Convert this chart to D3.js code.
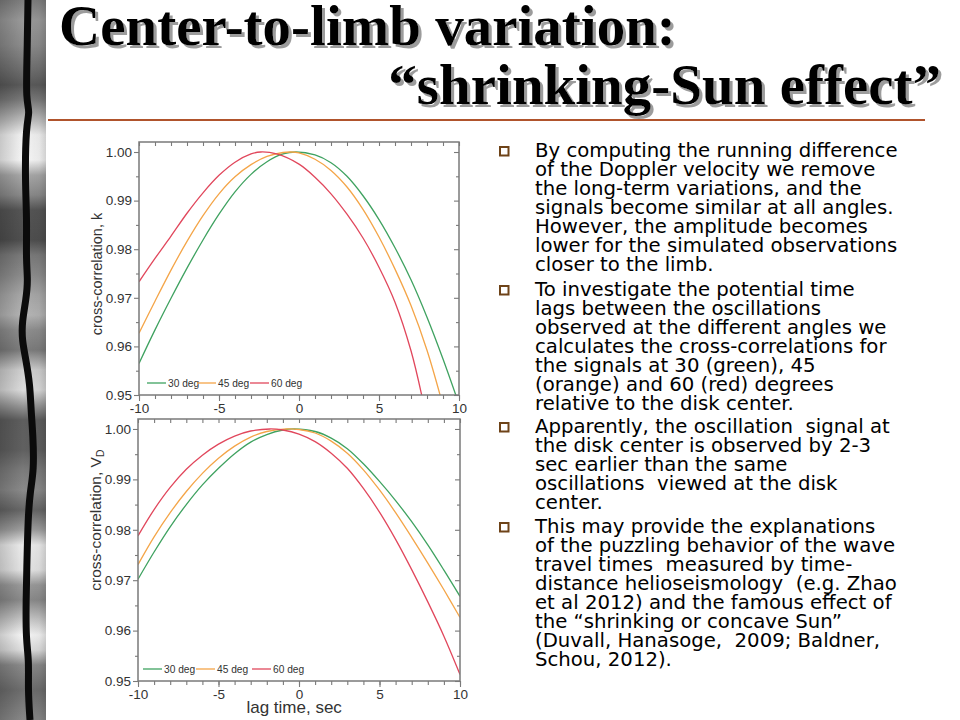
<!DOCTYPE html>
<html><head><meta charset="utf-8">
<script src="https://cdn.jsdelivr.net/npm/d3@7"></script>
<style>body{margin:0;background:#fff;overflow:hidden} svg{display:block}</style>
</head><body><svg id="c" width="960" height="720"></svg>
<script>
// ---------------- DATA ----------------
const titleLine1 = "Center-to-limb variation:";
const titleLine2 = "\u201Cshrinking-Sun effect\u201D";

const lagTicks = [-10, -5, 0, 5, 10];
const lagMinorTicks = [-10,-9,-8,-7,-6,-5,-4,-3,-2,-1,0,1,2,3,4,5,6,7,8,9,10];
const corrTicks = [0.95, 0.96, 0.97, 0.98, 0.99, 1.00];
const corrMinorTicks = [0.955, 0.965, 0.975, 0.985, 0.995];
const seriesNames = ["30 deg", "45 deg", "60 deg"];
const xLabel = "lag time, sec";

// top panel: cross-correlation of k (lag in sec, correlation)
const kLag30 = [-10,-9,-8,-7,-6,-5,-4,-3,-2,-1,-0.2,1,2,3,4,5,6,7,8,9,10];
const kVal30 = [0.9565,0.9634,0.9699,0.9761,0.9819,0.9872,0.9918,0.9954,0.9980,0.9996,1.0000,0.9994,0.9978,0.9950,0.9910,0.9861,0.9803,0.9737,0.9660,0.9574,0.9481];
const kLag45 = [-10,-9,-8,-7,-6,-5,-4,-3,-2,-1,-0.5,0,1,2,3,4,5,6,7,8,9];
const kVal45 = [0.9627,0.9693,0.9757,0.9816,0.9869,0.9914,0.9949,0.9974,0.9991,0.9999,1.0000,0.9998,0.9985,0.9962,0.9928,0.9882,0.9825,0.9759,0.9684,0.9592,0.9478];
const kLag60 = [-10,-9,-8,-7,-6,-5,-4,-3,-2.4,-1.4,0,1,2,3,4,5,6,7,7.7];
const kVal60 = [0.9733,0.9781,0.9827,0.9874,0.9916,0.9952,0.9979,0.9996,1.0000,0.9996,0.9975,0.9948,0.9914,0.9872,0.9823,0.9763,0.9691,0.9591,0.9495];

// bottom panel: cross-correlation of V_D
const vLag30 = [-10,-9,-8,-7,-6,-5,-4,-3,-2,-1,-0.3,1,2,3,4,5,6,7,8,9,10];
const vVal30 = [0.9702,0.9756,0.9806,0.9850,0.9889,0.9922,0.9951,0.9974,0.9989,0.9998,1.0000,0.9995,0.9982,0.9961,0.9931,0.9896,0.9858,0.9816,0.9770,0.9720,0.9668];
const vLag45 = [-10,-9,-8,-7,-6,-5,-4,-3,-2,-0.8,0,1,2,3,4,5,6,7,8,9,10];
const vVal45 = [0.9731,0.9786,0.9834,0.9876,0.9912,0.9942,0.9966,0.9984,0.9995,1.0000,0.9999,0.9992,0.9976,0.9952,0.9919,0.9879,0.9834,0.9785,0.9734,0.9681,0.9626];
const vLag60 = [-10,-9,-8,-7,-6,-5,-4,-3,-1.8,-1,0,1,2,3,4,5,6,7,8,9,10];
const vVal60 = [0.9788,0.9840,0.9884,0.9920,0.9948,0.9970,0.9986,0.9996,1.0000,0.9998,0.9990,0.9975,0.9952,0.9922,0.9882,0.9835,0.9781,0.9721,0.9657,0.9589,0.9513];

const bullets = [
  ["By computing the running difference",
   "of the Doppler velocity we remove",
   "the long-term variations, and the",
   "signals become similar at all angles.",
   "However, the amplitude becomes",
   "lower for the simulated observations",
   "closer to the limb."],
  ["To investigate the potential time",
   "lags between the oscillations",
   "observed at the different angles we",
   "calculates the cross-correlations for",
   "the signals at 30 (green), 45",
   "(orange) and 60 (red) degrees",
   "relative to the disk center."],
  ["Apparently, the oscillation  signal at",
   "the disk center is observed by 2-3",
   "sec earlier than the same",
   "oscillations  viewed at the disk",
   "center."],
  ["This may provide the explanations",
   "of the puzzling behavior of the wave",
   "travel times  measured by time-",
   "distance helioseismology  (e.g. Zhao",
   "et al 2012) and the famous effect of",
   "the \u201Cshrinking or concave Sun\u201D",
   "(Duvall, Hanasoge,  2009; Baldner,",
   "Schou, 2012)."]
];

// ---------------- STYLE ----------------
const seriesColors = ["#3fa260", "#f4a548", "#e1475c"];
const svg = d3.select("#c");
const defs = svg.append("defs");

// decorative film-like strip on the left
const stripStops = [[0,"#7d7d7d"],[20,"#9a9a9a"],[45,"#8c8c8c"],[70,"#6e6e6e"],[85,"#5a5a5a"],[100,"#7a7a7a"],
 [120,"#bdbdbd"],[135,"#f2f2f2"],[160,"#f6f6f6"],[175,"#a8a8a8"],[195,"#8a8a8a"],[210,"#555"],[240,"#4f4f4f"],
 [255,"#7a7a7a"],[275,"#8c8c8c"],[295,"#a8a8a8"],[315,"#b5b5b5"],[330,"#8e8e8e"],[350,"#7c7c7c"],[370,"#cfcfcf"],
 [390,"#dcdcdc"],[405,"#9a9a9a"],[420,"#5e5e5e"],[450,"#606060"],[470,"#7b7b7b"],[490,"#8a8a8a"],[510,"#666"],
 [530,"#9f9f9f"],[545,"#ececec"],[570,"#e4e4e4"],[585,"#9a9a9a"],[600,"#8a8a8a"],[620,"#c8c8c8"],[635,"#f5f5f5"],
 [650,"#ddd"],[665,"#8a8a8a"],[690,"#6d6d6d"],[720,"#888"]];
const grad = defs.append("linearGradient").attr("id","strip").attr("x1",0).attr("y1",0).attr("x2",0).attr("y2",1);
stripStops.forEach(s => grad.append("stop").attr("offset", s[0]/720).attr("stop-color", s[1]));
svg.append("rect").attr("x",0).attr("y",0).attr("width",46).attr("height",720).attr("fill","url(#strip)");
const hgrad = defs.append("linearGradient").attr("id","striph").attr("x1",0).attr("y1",0).attr("x2",1).attr("y2",0);
[[0,0.18],[0.5,0.0],[0.85,0.05],[1,0.15]].forEach(s=>hgrad.append("stop").attr("offset",s[0]).attr("stop-color","#000").attr("stop-opacity",s[1]));
svg.append("rect").attr("x",0).attr("y",0).attr("width",46).attr("height",720).attr("fill","url(#striph)");
const wave = [[0,28],[60,27],[100,26],[112,30],[125,26],[180,25],[220,27],[260,26],[280,28],[300,26],[322,22],[340,22],
  [360,26],[385,30],[410,31],[435,33],[470,34],[492,30],[520,28],[560,27],[600,26],[640,26],[660,29],[690,28],[720,30]];
svg.append("path").attr("d", d3.line().x(d=>d[1]).y(d=>d[0]).curve(d3.curveBasis)(wave))
  .attr("fill","none").attr("stroke","#0b0b0b").attr("stroke-width",7);

// ---------------- TITLE ----------------
const shadow = defs.append("filter").attr("id","shadow").attr("x","-5%").attr("y","-20%").attr("width","110%").attr("height","140%");
shadow.append("feOffset").attr("in","SourceAlpha").attr("dx",3).attr("dy",3).attr("result","off");
shadow.append("feFlood").attr("flood-color","#9c9c9c").attr("result","col");
shadow.append("feComposite").attr("in","col").attr("in2","off").attr("operator","in").attr("result","sh");
const merge = shadow.append("feMerge");
merge.append("feMergeNode").attr("in","sh");
merge.append("feMergeNode").attr("in","SourceGraphic");
const tFont = "'Liberation Serif','Times New Roman',serif";
function titleText(txt, x, y, anchor){
  svg.append("text").attr("x",x).attr("y",y).attr("text-anchor",anchor).attr("font-family",tFont)
    .attr("font-weight","bold").attr("font-size",57).attr("fill","#000").attr("filter","url(#shadow)").text(txt);
}
titleText(titleLine1, 59, 45, "start");
titleText(titleLine2, 941, 104, "end");
svg.append("line").attr("x1",48).attr("x2",925).attr("y1",120).attr("y2",120).attr("stroke","#b0532c").attr("stroke-width",2);

// ---------------- PANELS ----------------
const aFont = "'Liberation Sans',Arial,sans-serif";
function panel(cfg){
  const g = svg.append("g");
  const x = d3.scaleLinear().domain([-10,10]).range([cfg.x0,cfg.x1]);
  const y = d3.scaleLinear().domain([0.95,cfg.top]).range([cfg.y1,cfg.y0]);
  g.append("rect").attr("x",cfg.x0-50).attr("y",cfg.y0-6).attr("width",cfg.x1-cfg.x0+60).attr("height",cfg.y1-cfg.y0+40).attr("fill","#fff");
  const cid = "clip"+cfg.id;
  defs.append("clipPath").attr("id",cid).append("rect").attr("x",cfg.x0).attr("y",cfg.y0)
    .attr("width",cfg.x1-cfg.x0).attr("height",cfg.y1-cfg.y0);
  const line = d3.line().x(d=>x(d[0])).y(d=>y(d[1])).curve(d3.curveCatmullRom.alpha(0.5));
  cfg.series.forEach((s,i)=>{
    g.append("path").datum(d3.zip(s[0],s[1])).attr("d",line).attr("fill","none")
      .attr("stroke",seriesColors[i]).attr("stroke-width",1.3).attr("clip-path",`url(#${cid})`);
  });
  const style = sel => { sel.select(".domain").remove(); sel.selectAll("line").attr("stroke","#7a7a7a").attr("stroke-width",1.1);
    sel.selectAll("text").attr("fill","#333").attr("font-family",aFont).attr("font-size",13.5); };
  g.append("g").attr("transform",`translate(0,${cfg.y1})`).call(d3.axisBottom(x).tickValues(lagMinorTicks).tickSize(4).tickFormat("")).call(style);
  g.append("g").attr("transform",`translate(0,${cfg.y1})`).call(d3.axisBottom(x).tickValues(lagTicks).tickSize(6).tickPadding(2).tickFormat(d=>String(d))).call(style);
  g.append("g").attr("transform",`translate(0,${cfg.y0})`).call(d3.axisTop(x).tickValues(lagMinorTicks).tickSize(-4).tickFormat("")).call(style);
  g.append("g").attr("transform",`translate(${cfg.x0},0)`).call(d3.axisLeft(y).tickValues(corrMinorTicks).tickSize(3).tickFormat("")).call(style);
  g.append("g").attr("transform",`translate(${cfg.x0},0)`).call(d3.axisLeft(y).tickValues(corrTicks).tickSize(5).tickPadding(2).tickFormat(d3.format(".2f"))).call(style);
  g.append("g").attr("transform",`translate(${cfg.x1},0)`).call(d3.axisRight(y).tickValues(corrMinorTicks).tickSize(-3).tickFormat("")).call(style);
  g.append("g").attr("transform",`translate(${cfg.x1},0)`).call(d3.axisRight(y).tickValues(corrTicks).tickSize(-5).tickFormat("")).call(style);
  g.append("rect").attr("x",cfg.x0).attr("y",cfg.y0).attr("width",cfg.x1-cfg.x0).attr("height",cfg.y1-cfg.y0)
    .attr("fill","none").attr("stroke","#7a7a7a").attr("stroke-width",1.5);
  const yl = g.append("text").attr("transform",`translate(${cfg.ylx},${cfg.yly}) rotate(-90)`).attr("text-anchor","middle")
    .attr("font-family",aFont).attr("font-size",cfg.ylSize).attr("fill","#333");
  yl.append("tspan").text("cross-correlation, " + cfg.ysym);
  if (cfg.ysub) yl.append("tspan").attr("font-size",cfg.ylSize*0.7).attr("dy",3).text(cfg.ysub);
  const lg = g.append("g").attr("font-family",aFont).attr("font-size",10.2).attr("fill","#333");
  seriesNames.forEach((n,i)=>{
    const lx = cfg.legX[i];
    lg.append("line").attr("x1",lx).attr("x2",lx+19).attr("y1",cfg.legY).attr("y2",cfg.legY).attr("stroke",seriesColors[i]).attr("stroke-width",1.3);
    lg.append("text").attr("x",lx+21).attr("y",cfg.legY+3.5).text(n);
  });
  return {x,y,g};
}

const topPanel = panel({id:"k", x0:139, x1:459, y0:142, y1:395, top:1.00206, ylx:102, yly:274, ysym:"k", ysub:"", ylSize:14.5,
  series:[[kLag30,kVal30],[kLag45,kVal45],[kLag60,kVal60]], legX:[147,197,250], legY:383});
topPanel.g.append("line").attr("x1",topPanel.x(-1.2)).attr("x2",topPanel.x(-0.9)).attr("y1",415).attr("y2",415).attr("stroke","#555").attr("stroke-width",1.2);
topPanel.g.append("line").attr("x1",topPanel.x(1.5)).attr("x2",topPanel.x(1.8)).attr("y1",415).attr("y2",415).attr("stroke","#555").attr("stroke-width",1.2);

const botPanel = panel({id:"v", x0:138, x1:460, y0:419, y1:681, top:1.00198, ylx:101, yly:520, ysym:"V", ysub:"D", ylSize:15.5,
  series:[[vLag30,vVal30],[vLag45,vVal45],[vLag60,vVal60]], legX:[143,196,252], legY:669});
botPanel.g.append("text").attr("x",botPanel.x(-0.3)).attr("y",713).attr("text-anchor","middle").attr("font-family",aFont)
  .attr("font-size",17).attr("fill","#333").text(xLabel);

// ---------------- BULLET TEXT ----------------
const bFont = "'DejaVu Sans',Verdana,sans-serif";
const paraStart = [157, 296, 433, 533];
const lineH = 19;
bullets.forEach((lines,pi)=>{
  const y0 = paraStart[pi];
  svg.append("rect").attr("x",500).attr("y",y0-10).attr("width",8.5).attr("height",8.5)
    .attr("fill","none").attr("stroke","#6e4318").attr("stroke-width",2);
  lines.forEach((ln,li)=>{
    svg.append("text").attr("x",535).attr("y",y0+li*lineH).attr("font-family",bFont).attr("font-size",19.7)
      .attr("fill","#000").attr("xml:space","preserve").style("white-space","pre").text(ln);
  });
});
</script></body></html>
